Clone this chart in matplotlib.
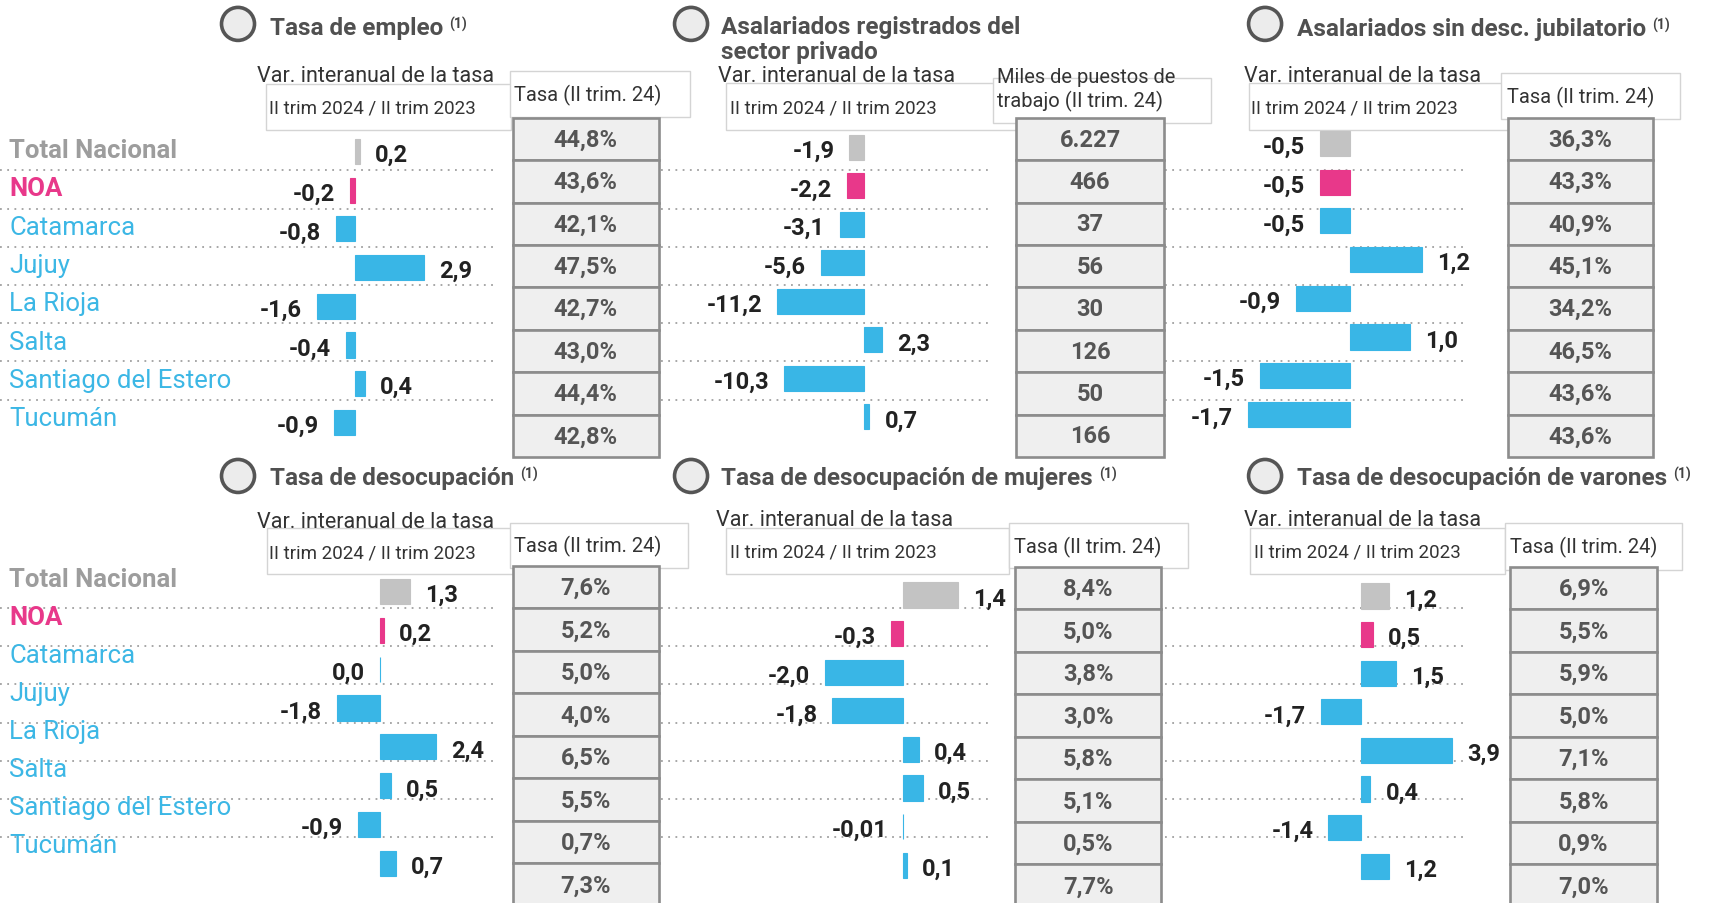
import matplotlib

matplotlib.use("Agg")
import matplotlib.pyplot as plt
from matplotlib.patches import Circle, Rectangle

W, H = 1711, 903

# ── datos ──
categories = ["Total Nacional", "NOA", "Catamarca", "Jujuy", "La Rioja", "Salta",
              "Santiago del Estero", "Tucumán"]

empleo_var = [0.2, -0.2, -0.8, 2.9, -1.6, -0.4, 0.4, -0.9]
empleo_tasa = ["44,8%", "43,6%", "42,1%", "47,5%", "42,7%", "43,0%", "44,4%", "42,8%"]

asal_reg_var = [-1.9, -2.2, -3.1, -5.6, -11.2, 2.3, -10.3, 0.7]
asal_reg_miles = ["6.227", "466", "37", "56", "30", "126", "50", "166"]

sin_desc_var = [-0.5, -0.5, -0.5, 1.2, -0.9, 1.0, -1.5, -1.7]
sin_desc_tasa = ["36,3%", "43,3%", "40,9%", "45,1%", "34,2%", "46,5%", "43,6%", "43,6%"]

desoc_var = [1.3, 0.2, 0.0, -1.8, 2.4, 0.5, -0.9, 0.7]
desoc_tasa = ["7,6%", "5,2%", "5,0%", "4,0%", "6,5%", "5,5%", "0,7%", "7,3%"]

desoc_muj_var = [1.4, -0.3, -2.0, -1.8, 0.4, 0.5, -0.01, 0.1]
desoc_muj_tasa = ["8,4%", "5,0%", "3,8%", "3,0%", "5,8%", "5,1%", "0,5%", "7,7%"]

desoc_var_var = [1.2, 0.5, 1.5, -1.7, 3.9, 0.4, -1.4, 1.2]
desoc_var_tasa = ["6,9%", "5,5%", "5,9%", "5,0%", "7,1%", "5,8%", "0,9%", "7,0%"]

# ── estilo ──
FONT = "Roboto"
GRAY_BAR = "#c3c3c3"
PINK = "#e8388a"
CYAN = "#39b6e6"
TITLE = "#505050"
INK = "#222222"
CELL = "#efefef"
CELL_EDGE = "#8c8c8c"
BOX_EDGE = "#d4d4d4"
DOT = "#a0a0a0"

bar_colors = [GRAY_BAR, PINK] + [CYAN] * 6
label_colors = ["#9d9d9d", PINK] + ["#3cb7e5"] * 6
label_weights = ["bold", "bold"] + ["normal"] * 6

VAR_TXT = "Var. interanual de la tasa"
II_TXT = "II trim 2024 / II trim 2023"
TASA_TXT = ["Tasa (II trim. 24)"]

panels = [
    dict(title=["Tasa de empleo"], sup=True, c=(238, 24), tx=270, ty=[35],
         var_xy=(257, 82), ii_box=(266, 84, 511, 130), ii_xy=(269, 113),
         hdr_box=(510, 71, 690, 117), hdr=TASA_TXT, hdr_xy=(514, [101]),
         table=(512.5, 118, 659, 457), zero=355, k=23.8, y1=151.5, s=38.7,
         vals=empleo_var, cells=empleo_tasa, dots=(0, 493), dot_y0=170.5),
    dict(title=["Asalariados registrados del", "sector privado"], sup=False, c=(691, 24),
         tx=721, ty=[34, 59], var_xy=(718, 82), ii_box=(726, 83, 1017, 130),
         ii_xy=(730, 113), hdr_box=(993, 78, 1211, 123),
         hdr=["Miles de puestos de", "trabajo (II trim. 24)"], hdr_xy=(997, [83, 107]),
         table=(1016, 118, 1164, 457), zero=864, k=7.75, y1=147.5, s=38.5,
         vals=asal_reg_var, cells=asal_reg_miles, dots=(661, 993), dot_y0=170.5),
    dict(title=["Asalariados sin desc. jubilatorio"], sup=True, c=(1265, 24), tx=1297,
         ty=[36], var_xy=(1244, 82), ii_box=(1249, 83, 1508, 130), ii_xy=(1251, 113),
         hdr_box=(1501, 73, 1680, 119), hdr=TASA_TXT, hdr_xy=(1507, [103]),
         table=(1507.5, 118, 1653, 457), zero=1350, k=60, y1=143.5, s=38.7,
         vals=sin_desc_var, cells=sin_desc_tasa, dots=(1165, 1463), dot_y0=170.5),
    dict(title=["Tasa de desocupación"], sup=True, c=(238, 476), tx=270, ty=[485],
         var_xy=(257, 527.5), ii_box=(266.5, 528, 513, 574), ii_xy=(269, 558),
         hdr_box=(510, 523, 687.5, 568), hdr=TASA_TXT, hdr_xy=(514, [552]),
         table=(512.5, 566, 659, 906), zero=379.5, k=23.5, y1=591.7, s=38.8,
         vals=desoc_var, cells=desoc_tasa, dots=(0, 493), dot_y0=608),
    dict(title=["Tasa de desocupación de mujeres"], sup=True, c=(691, 476), tx=721,
         ty=[485], var_xy=(716, 526), ii_box=(726, 528, 1009, 574), ii_xy=(730, 557),
         hdr_box=(1009, 523, 1187.5, 568), hdr=TASA_TXT, hdr_xy=(1014, [553]),
         table=(1015, 567, 1161, 907), zero=903, k=39.2, y1=595, s=38.6,
         vals=desoc_muj_var, cells=desoc_muj_tasa, dots=(661, 993), dot_y0=608),
    dict(title=["Tasa de desocupación de varones"], sup=True, c=(1265, 476), tx=1297,
         ty=[485], var_xy=(1244, 526), ii_box=(1250, 528, 1505, 574), ii_xy=(1254, 557),
         hdr_box=(1505, 523, 1682, 570), hdr=TASA_TXT, hdr_xy=(1510, [553]),
         table=(1510, 567, 1657, 907), zero=1361, k=23.4, y1=596, s=38.6,
         vals=desoc_var_var, cells=desoc_var_tasa, dots=(1165, 1463), dot_y0=608),
]


def fmt(v):
    s = f"{v:.1f}" if round(v, 1) == v else f"{v:.2f}"
    return s.replace(".", ",")


fig = plt.figure(figsize=(W / 100 + 0.001, H / 100 + 0.001), dpi=100)
fig.patch.set_facecolor("white")
base = fig.add_axes([0, 0, 1, 1])
base.set_xlim(0, W)
base.set_ylim(H, 0)
base.axis("off")


def px_axes(x0, y0, x1, y1):
    a = fig.add_axes([x0 / W, 1 - y1 / H, (x1 - x0) / W, (y1 - y0) / H])
    a.patch.set_alpha(0)
    a.axis("off")
    return a


def box(x0, y0, x1, y1, **kw):
    base.add_patch(Rectangle((x0, y0), x1 - x0, y1 - y0, **kw))


# ── nombres de las provincias (columna izquierda) ──
for base_y, step in ((158, 38.3), (586.5, 38.05)):
    for i, name in enumerate(categories):
        base.text(9, base_y + i * step, name, family=FONT, fontsize=18.5,
                  color=label_colors[i], weight=label_weights[i], va="baseline")

for p in panels:
    # líneas punteadas
    for i in range(7):
        y = p["dot_y0"] + 38.2 * i
        base.plot(p["dots"], [y, y], color=DOT, lw=1.3, ls=(0, (1, 3)), zorder=1)

    # círculo + título
    base.add_patch(Circle(p["c"], 16.5, facecolor="#ececec", edgecolor="#555555",
                          lw=2.6, zorder=3))
    for line, y in zip(p["title"], p["ty"]):
        t = base.text(p["tx"], y, line, family=FONT, fontsize=17.5, weight="bold",
                      color=TITLE, va="baseline")
    if p["sup"]:
        base.annotate("(1)", xy=(1, 1), xycoords=t, xytext=(6, 0),
                      textcoords="offset pixels", family=FONT, fontsize=10,
                      weight="bold", color="#444444", va="top")

    # cajas de encabezado
    box(*p["ii_box"], facecolor="white", edgecolor=BOX_EDGE, lw=1, zorder=2)
    box(*p["hdr_box"], facecolor="white", edgecolor=BOX_EDGE, lw=1, zorder=2)
    base.text(*p["var_xy"], VAR_TXT, family=FONT, fontsize=15.5, color="#333333",
              va="baseline", zorder=4)
    base.text(*p["ii_xy"], II_TXT, family=FONT, fontsize=13.5, color="#333333",
              va="baseline", zorder=4)
    hx, hys = p["hdr_xy"]
    for line, y in zip(p["hdr"], hys):
        base.text(hx, y, line, family=FONT, fontsize=14.5, color="#333333",
                  va="baseline", zorder=4)

    # tabla
    tx0, ty0, tx1, ty1 = p["table"]
    rh = (ty1 - ty0) / 8
    for i, val in enumerate(p["cells"]):
        box(tx0, ty0 + i * rh, tx1, ty0 + (i + 1) * rh, facecolor=CELL,
            edgecolor=CELL_EDGE, lw=1.9, zorder=2)
        base.text((tx0 + tx1) / 2, ty0 + (i + 0.5) * rh + 7.5, val, family=FONT,
                  fontsize=17, weight="bold", color="#555555", ha="center",
                  va="baseline", zorder=4)

    # barras
    z, k, y1, s = p["zero"], p["k"], p["y1"], p["s"]
    ax = px_axes(z - 320, y1 - s / 2, z + 320, y1 + 7.5 * s)
    ax.set_xlim(-320 / k, 320 / k)
    ax.set_ylim(7.5, -0.5)
    ax.barh(range(8), p["vals"], height=0.65, color=bar_colors, edgecolor=bar_colors,
            linewidth=0.8)
    for i, v in enumerate(p["vals"]):
        right = v > 0
        ax.annotate(fmt(v), xy=(v, i), xytext=(15 if right else -15, -10.5),
                    textcoords="offset pixels", ha="left" if right else "right",
                    va="baseline", family=FONT, fontsize=17, weight="bold", color=INK)

fig.savefig("out.png", dpi=100, facecolor="white")
